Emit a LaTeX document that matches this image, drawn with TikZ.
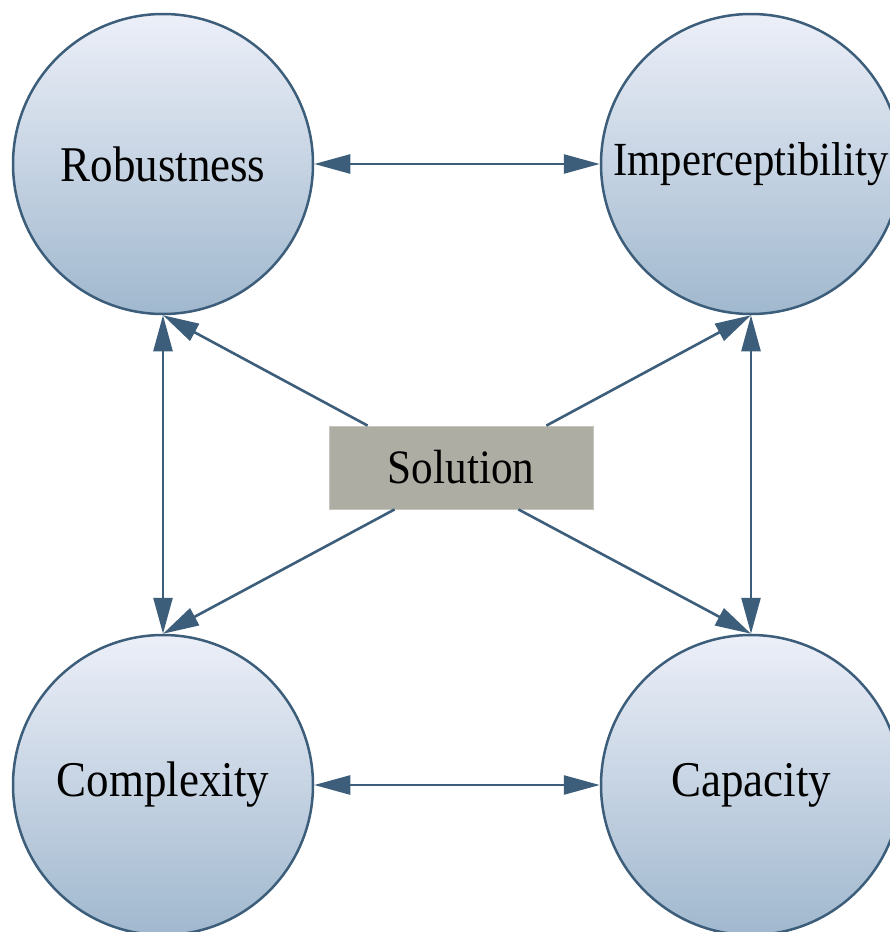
\documentclass[tikz,border=0pt]{standalone}
\usepackage{fontspec}
\setmainfont{Liberation Serif}[FakeStretch=0.9]
\usetikzlibrary{arrows.meta}
\definecolor{edgec}{RGB}{60,94,122}
\definecolor{topc}{RGB}{236,239,248}
\definecolor{botc}{RGB}{160,184,206}
\definecolor{solc}{RGB}{173,173,163}
\begin{document}
\begin{tikzpicture}[x=1pt,y=-1pt,
  bubble/.style={circle,draw=edgec,line width=2.5pt,minimum size=300pt,inner sep=0pt,
    top color=topc,bottom color=botc,font=\fontsize{50}{54}\selectfont},
  solbox/.style={rectangle,fill=solc,draw=solc!70!white,line width=0.8pt,
    minimum width=264pt,minimum height=83pt,inner sep=0pt,font=\fontsize{48}{52}\selectfont},
  tip/.tip={Triangle[length=36pt,width=19pt]},
  link/.style={draw=edgec,line width=2.6pt,-tip},
  duo/.style={draw=edgec,line width=2.6pt,tip-tip}]
\useasboundingbox (0,0) rectangle (890,932);
\node[bubble] (rob) at (163,164) {Robustness};
\node[bubble,font=\fontsize{47.5}{52}\selectfont] (imp) at (751,164) {Imperceptibility};
\node[bubble] (comp) at (163,785) {Complexity};
\node[bubble] (cap) at (751,785) {Capacity};
\node[solbox] (sol) at (461,467.5) {Solution};
\draw[duo] (rob) -- (imp);
\draw[duo] (comp) -- (cap);
\draw[duo] (rob) -- (comp);
\draw[duo] (imp) -- (cap);
\draw[link] ([xshift=39pt]sol.north west) -- (rob.south);
\draw[link] ([xshift=-47pt]sol.north east) -- (imp.south);
\draw[link] ([xshift=66pt]sol.south west) -- (comp.north);
\draw[link] ([xshift=-75pt]sol.south east) -- (cap.north);
\end{tikzpicture}
\end{document}
